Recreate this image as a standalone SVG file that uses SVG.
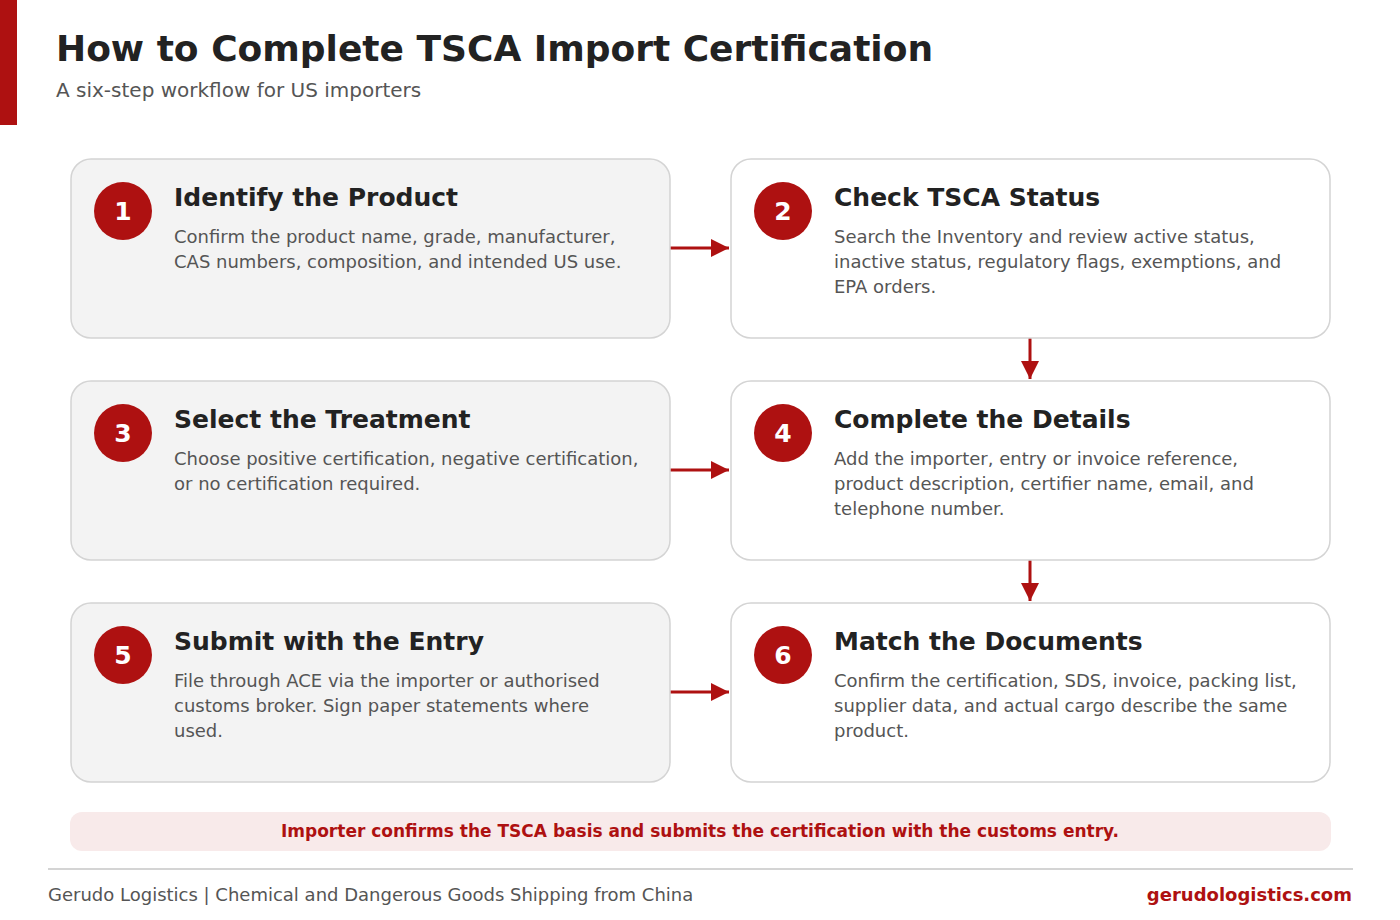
<svg xmlns="http://www.w3.org/2000/svg" width="1400" height="920" viewBox="0 0 1400 920">
<defs>
<style>
text{font-family:"DejaVu Sans","Liberation Sans",sans-serif}
.title{font-size:36px;font-weight:bold;fill:#222}
.sub{font-size:20px;fill:#555}
.cardL{fill:#f3f3f3;stroke:#d4d4d4;stroke-width:1.5}
.cardR{fill:#ffffff;stroke:#d4d4d4;stroke-width:1.5}
.badge{fill:#ae1111}
.num{font-size:25px;font-weight:bold;fill:#fff;text-anchor:middle}
.ct{font-size:25px;font-weight:bold;fill:#222}
.cd{font-size:18px;fill:#555}
.conn{stroke:#ae1111;stroke-width:3;fill:none}
.banner{fill:#f8eaea}
.btext{font-size:17px;font-weight:bold;fill:#ae1111;text-anchor:middle}
.foot{font-size:18px;fill:#555}
.url{font-size:18px;font-weight:bold;fill:#ae1111;text-anchor:end}
</style>
<marker id="ah" viewBox="0 0 10 10" refX="10" refY="5" markerWidth="6" markerHeight="6" markerUnits="strokeWidth" orient="auto"><path d="M0,0 L10,5 L0,10 z" fill="#ae1111"/></marker>
</defs>
<rect x="0" y="0" width="17" height="125" fill="#ae1111"/>
<text class="title" x="56" y="61">How to Complete TSCA Import Certification</text>
<text class="sub" x="56" y="97">A six-step workflow for US importers</text>

<g id="connectors">
<line class="conn" x1="670" y1="248" x2="729" y2="248" marker-end="url(#ah)"/>
<line class="conn" x1="670" y1="470" x2="729" y2="470" marker-end="url(#ah)"/>
<line class="conn" x1="670" y1="692" x2="729" y2="692" marker-end="url(#ah)"/>
<line class="conn" x1="1030" y1="338" x2="1030" y2="379" marker-end="url(#ah)"/>
<line class="conn" x1="1030" y1="560" x2="1030" y2="601" marker-end="url(#ah)"/>
</g>

<g id="step1">
<rect class="cardL" x="71" y="159" width="599" height="179" rx="20"/>
<circle class="badge" cx="123" cy="211" r="29"/>
<text class="num" x="123" y="220">1</text>
<text class="ct" x="174" y="206">Identify the Product</text>
<text class="cd" x="174" y="243">Confirm the product name, grade, manufacturer,</text>
<text class="cd" x="174" y="268">CAS numbers, composition, and intended US use.</text>
</g>
<g id="step2">
<rect class="cardR" x="731" y="159" width="599" height="179" rx="20"/>
<circle class="badge" cx="783" cy="211" r="29"/>
<text class="num" x="783" y="220">2</text>
<text class="ct" x="834" y="206">Check TSCA Status</text>
<text class="cd" x="834" y="243">Search the Inventory and review active status,</text>
<text class="cd" x="834" y="268">inactive status, regulatory flags, exemptions, and</text>
<text class="cd" x="834" y="293">EPA orders.</text>
</g>
<g id="step3">
<rect class="cardL" x="71" y="381" width="599" height="179" rx="20"/>
<circle class="badge" cx="123" cy="433" r="29"/>
<text class="num" x="123" y="442">3</text>
<text class="ct" x="174" y="428">Select the Treatment</text>
<text class="cd" x="174" y="465">Choose positive certification, negative certification,</text>
<text class="cd" x="174" y="490">or no certification required.</text>
</g>
<g id="step4">
<rect class="cardR" x="731" y="381" width="599" height="179" rx="20"/>
<circle class="badge" cx="783" cy="433" r="29"/>
<text class="num" x="783" y="442">4</text>
<text class="ct" x="834" y="428">Complete the Details</text>
<text class="cd" x="834" y="465">Add the importer, entry or invoice reference,</text>
<text class="cd" x="834" y="490">product description, certifier name, email, and</text>
<text class="cd" x="834" y="515">telephone number.</text>
</g>
<g id="step5">
<rect class="cardL" x="71" y="603" width="599" height="179" rx="20"/>
<circle class="badge" cx="123" cy="655" r="29"/>
<text class="num" x="123" y="664">5</text>
<text class="ct" x="174" y="650">Submit with the Entry</text>
<text class="cd" x="174" y="687">File through ACE via the importer or authorised</text>
<text class="cd" x="174" y="712">customs broker. Sign paper statements where</text>
<text class="cd" x="174" y="737">used.</text>
</g>
<g id="step6">
<rect class="cardR" x="731" y="603" width="599" height="179" rx="20"/>
<circle class="badge" cx="783" cy="655" r="29"/>
<text class="num" x="783" y="664">6</text>
<text class="ct" x="834" y="650">Match the Documents</text>
<text class="cd" x="834" y="687">Confirm the certification, SDS, invoice, packing list,</text>
<text class="cd" x="834" y="712">supplier data, and actual cargo describe the same</text>
<text class="cd" x="834" y="737">product.</text>
</g>

<g id="banner">
<rect class="banner" x="70" y="812" width="1261" height="39" rx="12"/>
<text class="btext" x="700" y="837">Importer confirms the TSCA basis and submits the certification with the customs entry.</text>
</g>
<line x1="48" y1="869" x2="1353" y2="869" stroke="#d4d4d4" stroke-width="2"/>
<text class="foot" x="48" y="901">Gerudo Logistics | Chemical and Dangerous Goods Shipping from China</text>
<text class="url" x="1352" y="901">gerudologistics.com</text>
</svg>
